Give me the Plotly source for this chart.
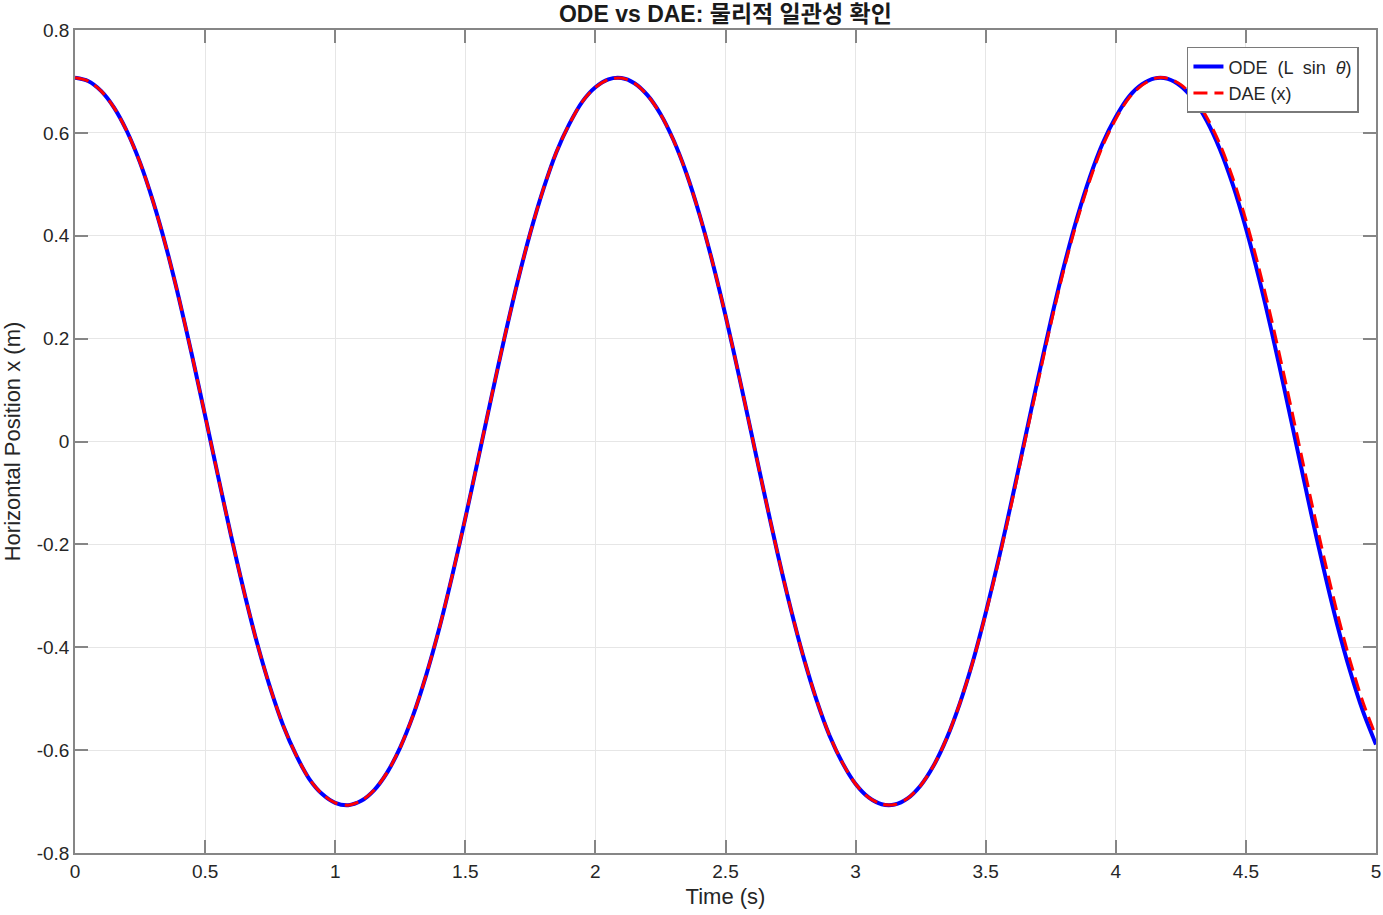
import plotly.graph_objects as go

# Time samples (s)
t = [round(i * 0.05, 2) for i in range(101)]

# ODE: x = L sin(theta)
ode_x = [0.7071, 0.7008, 0.6816, 0.6492, 0.6027, 0.5421, 0.4667, 0.3783, 0.2772, 0.1666,
         0.0503, -0.0679, -0.1837, -0.2926, -0.3924, -0.4785, -0.5520, -0.6098, -0.6557, -0.6855,
         -0.7025, -0.7070, -0.6986, -0.6776, -0.6432, -0.5945, -0.5316, -0.4537, -0.3632, -0.2602,
         -0.1493, -0.0326, 0.0854, 0.2005, 0.3087, 0.4060, 0.4907, 0.5625, 0.6175, 0.6608,
         0.6886, 0.7040, 0.7065, 0.6966, 0.6733, 0.6368, 0.5861, 0.5211, 0.4414, 0.3487,
         0.2451, 0.1320, 0.0148, -0.1030, -0.2172, -0.3237, -0.4196, -0.5027, -0.5719, -0.6253,
         -0.6659, -0.6920, -0.7052, -0.7058, -0.6938, -0.6687, -0.6300, -0.5772, -0.5100, -0.4288,
         -0.3333, -0.2283, -0.1147, 0.0029, 0.1203, 0.2338, 0.3392, 0.4329, 0.5136, 0.5803,
         0.6311, 0.6704, 0.6943, 0.7060, 0.7050, 0.6908, 0.6639, 0.6230, 0.5682, 0.4987,
         0.4148, 0.3183, 0.2116, 0.0972, -0.0207, -0.1380, -0.2501, -0.3541, -0.4456, -0.5248,
         -0.5890]

# DAE: x (slight lag near the end)
dae_x = [0.7071, 0.7008, 0.6816, 0.6492, 0.6027, 0.5421, 0.4667, 0.3783, 0.2772, 0.1666,
         0.0503, -0.0679, -0.1837, -0.2926, -0.3924, -0.4785, -0.5520, -0.6098, -0.6557, -0.6855,
         -0.7025, -0.7070, -0.6986, -0.6776, -0.6432, -0.5945, -0.5316, -0.4537, -0.3632, -0.2602,
         -0.1493, -0.0326, 0.0854, 0.2005, 0.3087, 0.4060, 0.4907, 0.5625, 0.6175, 0.6608,
         0.6886, 0.7040, 0.7065, 0.6966, 0.6733, 0.6368, 0.5861, 0.5211, 0.4414, 0.3487,
         0.2451, 0.1320, 0.0148, -0.1030, -0.2172, -0.3237, -0.4196, -0.5027, -0.5719, -0.6253,
         -0.6659, -0.6920, -0.7052, -0.7058, -0.6938, -0.6687, -0.6300, -0.5772, -0.5100, -0.4298,
         -0.3353, -0.2313, -0.1192, -0.0011, 0.1133, 0.2278, 0.3332, 0.4269, 0.5076, 0.5753,
         0.6271, 0.6674, 0.6923, 0.7060, 0.7060, 0.6938, 0.6689, 0.6300, 0.5782, 0.5117,
         0.4308, 0.3373, 0.2336, 0.1212, 0.0043, -0.1130, -0.2251, -0.3311, -0.4256, -0.5068,
         -0.5730]

x_ticks = [0, 0.5, 1, 1.5, 2, 2.5, 3, 3.5, 4, 4.5, 5]
x_tick_labels = ["0", "0.5", "1", "1.5", "2", "2.5", "3", "3.5", "4", "4.5", "5"]
y_ticks = [-0.8, -0.6, -0.4, -0.2, 0, 0.2, 0.4, 0.6, 0.8]
y_tick_labels = ["-0.8", "-0.6", "-0.4", "-0.2", "0", "0.2", "0.4", "0.6", "0.8"]

font_family = "Liberation Sans, Arial, Noto Sans CJK KR, sans-serif"
axis_color = "#868686"
grid_color = "#e6e6e6"
text_color = "#262626"

fig = go.Figure()
fig.add_trace(go.Scatter(
    x=t, y=ode_x, mode="lines", name="ODE  (L  sin  <i>θ</i>)",
    line=dict(color="#0000ff", width=4, shape="spline", smoothing=0.8),
))
fig.add_trace(go.Scatter(
    x=t, y=dae_x, mode="lines", name="DAE (x)",
    line=dict(color="#ff0000", width=3, dash="14px,7px", shape="spline", smoothing=0.8),
))

fig.update_layout(
    width=1383, height=915,
    margin=dict(l=75, r=7, t=30, b=62, autoexpand=False),
    paper_bgcolor="white", plot_bgcolor="white",
    font=dict(family=font_family, size=19, color=text_color),
    title=dict(text="<b>ODE vs DAE: 물리적 일관성 확인</b>", x=0.5245, xanchor="center",
               yref="container", y=1 - 14 / 915, yanchor="middle",
               font=dict(size=23, color="#1a1a1a")),
    showlegend=True,
    legend=dict(x=0.9869, xanchor="right", y=0.9795, yanchor="top",
                bgcolor="white", bordercolor="#7a7a7a", borderwidth=1.5,
                font=dict(size=18, color=text_color), tracegroupgap=0),
)

fig.update_xaxes(
    range=[0, 5], tickvals=x_ticks, ticktext=x_tick_labels,
    showgrid=True, gridcolor=grid_color, gridwidth=1,
    showline=True, linecolor=axis_color, linewidth=1.5, mirror="ticks",
    ticks="inside", ticklen=13, tickcolor=axis_color, tickwidth=1.5,
    zeroline=False, automargin=False,
    title=dict(text="Time (s)", font=dict(size=22, color=text_color), standoff=8),
    tickfont=dict(size=19, color=text_color),
)
fig.update_yaxes(
    range=[-0.8, 0.8], tickvals=y_ticks, ticktext=y_tick_labels,
    showgrid=True, gridcolor=grid_color, gridwidth=1,
    showline=True, linecolor=axis_color, linewidth=1.5, mirror="ticks",
    ticks="inside", ticklen=13, tickcolor=axis_color, tickwidth=1.5,
    zeroline=False, automargin=False,
    title=dict(text="Horizontal Position x (m)", font=dict(size=22, color=text_color), standoff=14),
    tickfont=dict(size=19, color=text_color),
)

fig.write_html("out.html", post_script="document.body.style.margin='0';",
               config={"displayModeBar": False})
